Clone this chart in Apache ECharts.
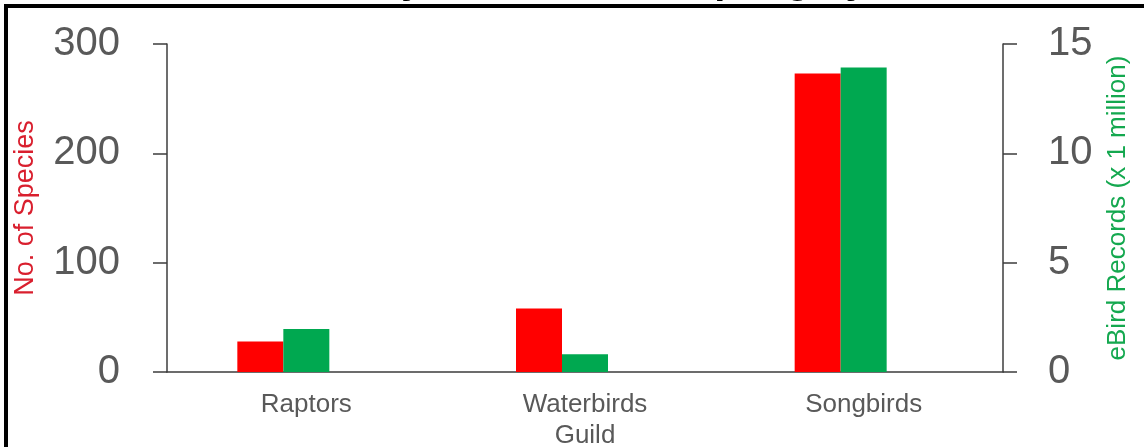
<!DOCTYPE html>
<html>
<head>
<meta charset="utf-8">
<title>Species and eBird records by guild</title>
<script src="https://cdn.jsdelivr.net/npm/echarts@6/dist/echarts.min.js"></script>
<style>
  html, body { margin: 0; padding: 0; background: #fff; }
  #chart { width: 1144px; height: 447px; }
</style>
</head>
<body>
<div id="chart"></div>
<script>
// guilds on the x axis
var guilds = ['Raptors', 'Waterbirds', 'Songbirds'];
// left axis: number of species
var speciesCount = [28, 58, 273];
// right axis: eBird records, in millions
var ebirdRecords = [1.97, 0.81, 13.93];
// tick labels
var speciesTicks = [0, 100, 200, 300];
var recordTicks = [0, 5, 10, 15];

var FONT = 'Liberation Sans, Arial, sans-serif';
var AXIS_GREY = '#3d3d3d';
var TEXT_GREY = '#595959';

var dom = document.getElementById('chart');
var myChart = echarts.init(dom, null, { renderer: 'canvas' });

var option = {
  backgroundColor: '#fff',
  animation: false,
  // frame around the plot, title sits above it (cropped in the source)
  graphic: [
    {
      type: 'text',
      x: 572,
      y: 2,
      style: {
        text: 'Bird Diversity and eBird Sampling by Guild',
        font: 'bold 40px ' + FONT,
        fill: '#000',
        textAlign: 'center',
        textVerticalAlign: 'bottom'
      }
    },
    {
      type: 'rect',
      shape: { x: 6, y: 6, width: 1300, height: 600 },
      style: { fill: null, stroke: '#000', lineWidth: 4 }
    }
  ],
  grid: { left: 167, right: 141, top: 44, bottom: 75, outerBoundsMode: 'none' },
  xAxis: {
    type: 'category',
    data: guilds,
    name: 'Guild',
    nameLocation: 'middle',
    nameGap: 44,
    nameTextStyle: { fontSize: 26, color: TEXT_GREY, fontFamily: FONT },
    axisLine: { lineStyle: { color: AXIS_GREY, width: 1.5 } },
    axisTick: { show: false },
    axisLabel: { fontSize: 26, color: TEXT_GREY, fontFamily: FONT, margin: 20 }
  },
  yAxis: [
    {
      type: 'value',
      position: 'left',
      min: speciesTicks[0],
      max: speciesTicks[speciesTicks.length - 1],
      interval: speciesTicks[1] - speciesTicks[0],
      name: 'No. of Species',
      nameLocation: 'middle',
      nameGap: 128,
      nameTextStyle: { fontSize: 27, color: '#d91f2e', fontFamily: FONT },
      axisLine: { show: true, lineStyle: { color: AXIS_GREY, width: 1.5 } },
      axisTick: { show: true, length: 14, lineStyle: { color: AXIS_GREY, width: 1.5 } },
      splitLine: { show: false },
      axisLabel: { fontSize: 40, color: TEXT_GREY, fontFamily: FONT, margin: 47, padding: [5, 0, 0, 0] }
    },
    {
      type: 'value',
      position: 'right',
      min: recordTicks[0],
      max: recordTicks[recordTicks.length - 1],
      interval: recordTicks[1] - recordTicks[0],
      name: 'eBird Records (x 1 million)',
      nameLocation: 'middle',
      nameGap: 102,
      nameTextStyle: { fontSize: 26, color: '#14a84f', fontFamily: FONT },
      axisLine: { show: true, lineStyle: { color: AXIS_GREY, width: 1.5 } },
      axisTick: { show: true, length: 14, lineStyle: { color: AXIS_GREY, width: 1.5 } },
      splitLine: { show: false },
      axisLabel: { fontSize: 40, color: TEXT_GREY, fontFamily: FONT, margin: 45, padding: [5, 0, 0, 0] }
    }
  ],
  series: [
    {
      name: 'No. of Species',
      type: 'bar',
      yAxisIndex: 0,
      data: speciesCount,
      barWidth: 46,
      barGap: '0%',
      itemStyle: { color: '#ff0000' }
    },
    {
      name: 'eBird Records',
      type: 'bar',
      yAxisIndex: 1,
      data: ebirdRecords,
      barWidth: 46,
      barGap: '0%',
      itemStyle: { color: '#00a850' }
    },
    {
      // empty third slot, the original chart leaves room for it
      name: 'spacer',
      type: 'bar',
      yAxisIndex: 1,
      data: [],
      barWidth: 46,
      barGap: '0%'
    }
  ]
};

if (option && typeof option === 'object') {
  myChart.setOption(option);
}

window.addEventListener('resize', myChart.resize);
</script>
</body>
</html>
